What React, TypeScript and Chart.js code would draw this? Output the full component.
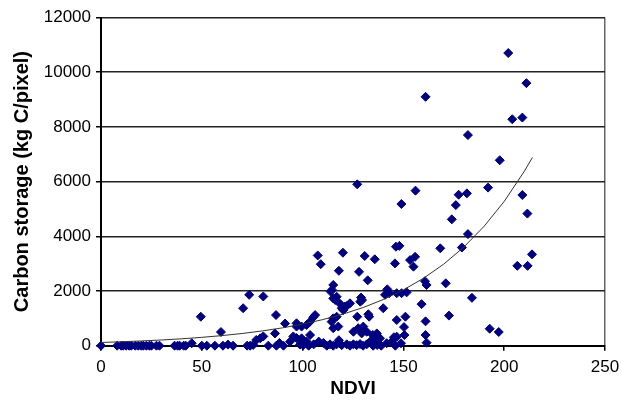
import React, { useEffect, useRef } from "react";
import { Chart, registerables } from "chart.js";

Chart.register(...registerables);

// NDVI values of the observed pixels
const ndvi: number[] = [
  0, 8, 10, 11, 12.5, 14, 15, 17, 18.5, 20, 21, 22.5, 24, 25, 27.5, 29, 36.5, 38, 39, 41, 42, 45,
  50, 52.5, 56.5, 60.5, 63, 65.5, 49.5, 59.5, 70.5, 73.5, 80.5, 86.8, 91.3,
  72.5, 74, 75.5, 77, 79, 80.5, 83, 86.3, 87, 88.5, 90.5, 93.8, 95.4, 97, 97, 97, 98.7, 99.5, 100.3, 102,
  99.5, 102, 103.7, 103.7, 105.3, 106.2, 107.5, 109,
  103, 105.5, 108, 110.3, 112, 113.6, 115.2, 116.9, 118, 119.4, 121.9, 123.5, 125.2, 126.8, 128.5, 130,
  131.8, 133.5, 135, 137, 139, 141.7, 144.2, 146, 148.8,
  115.2, 116.9, 114.4, 117.7, 115.2, 115.2, 114.6, 113.9, 115.2, 116.2, 116.9,
  118.6, 119.4, 120.2, 121, 121.9, 123.5, 118, 120, 128, 130.8, 135.8, 132.3,
  129, 129.5, 128.6, 127.1, 127.1, 132.6, 133, 125.2, 127.6, 130.1, 131.8, 129.3, 134.8, 135.9,
  136.8, 138.4, 140, 142, 143, 140.9, 146.7, 149.1, 151.6, 146.3, 148, 145.8, 149,
  146.7, 151, 150.3, 150.5, 146.7, 145.3, 153.3, 155.8, 155, 156,
  159, 160.7, 161.5, 161, 161, 161.5, 161,
  168.3, 171, 172.6, 174, 176, 177.4, 181.5, 179, 182, 182, 184,
  192, 192.8, 197.3, 197.8, 202, 204, 209, 209, 211, 211.5, 206.5, 211.6, 213.8,
];

// Carbon storage (kg C/pixel) of the same pixels
const carbon: number[] = [
  0, 0, 0, 0, 0, 0, 0, 0, 0, 0, 0, 0, 0, 0, 0, 0, 0, 0, 0, 0, 0, 90,
  0, 0, 0, 0, 40, 0, 1060, 500, 1370, 1860, 1800, 1120, 810,
  0, 0, 30, 210, 270, 340, 0, 450, 0, 100, 0, 150, 340, 280, 700, 820, 40, 270, 20, 150,
  700, 760, 880, 390, 1040, 1120, 3300, 2980,
  0, 50, 150, 100, 0, 50, 0, 50, 200, 20, 50, 0, 50, 20, 60, 0,
  50, 150, 0, 25, 0, 90, 150, 0, 90,
  1000, 1060, 880, 700, 640, 2220, 2040, 1980, 1730, 1670, 1790,
  1530, 1370, 1300, 1430, 1450, 1550, 2740, 3400, 2700, 3280, 3160, 2390,
  1760, 1670, 1610, 5900, 1060, 1150, 1060, 510, 640, 700, 510, 450, 390, 270,
  450, 270, 1370, 2060, 1920, 1860, 1920, 1920, 1950, 3620, 3650, 3010, 5180,
  940, 1060, 680, 390, 330, 310, 3130, 3250, 2890, 5670,
  1520, 2360, 2220, 890, 390, 110, 9100,
  3560, 2280, 1100, 4620, 5140, 5520, 5570, 3590, 4080, 7700, 1750,
  5780, 620, 500, 6780, 10700, 8280, 8340, 5510, 9600, 4830, 2920, 2920, 3340,
];

// Exponential trend line
const trendNdvi: number[] = [0, 10, 20, 30, 40, 50, 60, 70, 80, 90, 100, 110, 120, 130, 140, 150, 160, 170, 180, 190, 200, 210, 214];
const trendCarbon: number[] = [118, 143, 173, 209, 252, 305, 369, 446, 540, 652, 789, 954, 1154, 1395, 1687, 2040, 2467, 2983, 3608, 4363, 5275, 6379, 6883];

const xTicks: number[] = [0, 50, 100, 150, 200, 250];
const yTicks: number[] = [0, 2000, 4000, 6000, 8000, 10000, 12000];

const FONT = '"Liberation Sans", Arial, sans-serif';

export default function App() {
  const ref = useRef<HTMLCanvasElement | null>(null);

  useEffect(() => {
    if (!ref.current) return;
    const points = ndvi.map((x, i) => ({ x, y: carbon[i] }));
    const trend = trendNdvi.map((x, i) => ({ x, y: trendCarbon[i] }));
    const chart = new Chart(ref.current, {
      type: "scatter",
      data: {
        datasets: [
          {
            label: "Trend",
            data: trend,
            showLine: true,
            borderColor: "#333",
            borderWidth: 1,
            pointRadius: 0,
            fill: false,
            tension: 0,
          },
          {
            label: "Pixels",
            data: points,
            pointStyle: "rectRot",
            pointRadius: 4.5,
            backgroundColor: "#000080",
            borderColor: "#000080",
            borderWidth: 1,
            clip: false,
          },
        ],
      },
      options: {
        animation: false,
        responsive: true,
        maintainAspectRatio: false,
        layout: { padding: { left: 0, right: 17, top: 17.5, bottom: 0 } },
        plugins: { legend: { display: false }, tooltip: { enabled: false } },
        scales: {
          x: {
            type: "linear",
            min: 0,
            max: 250,
            afterBuildTicks: (s: any) => {
              s.ticks = xTicks.map((v) => ({ value: v }));
            },
            afterFit: (s: any) => {
              s.height = 54.3;
              s.paddingRight = 0;
              s.paddingLeft = 0;
            },
            ticks: {
              color: "#000",
              font: { family: FONT, size: 17 },
              padding: 6,
              maxRotation: 0,
              autoSkip: false,
              callback: (v: any) => String(v),
            },
            grid: {
              drawOnChartArea: true,
              color: (c: any) => (c.tick && c.tick.value === 250 ? "#666" : "rgba(0,0,0,0)"),
              lineWidth: 1.5,
              tickLength: 5,
              tickColor: "#000",
              tickWidth: 1.5,
            },
            border: { display: true, color: "#000", width: 2 },
            title: {
              display: true,
              text: "NDVI",
              color: "#000",
              font: { family: FONT, size: 19, weight: "bold" },
              padding: { top: 0, bottom: 0 },
            },
          },
          y: {
            type: "linear",
            min: 0,
            max: 12000,
            afterBuildTicks: (s: any) => {
              s.ticks = yTicks.map((v) => ({ value: v }));
            },
            afterFit: (s: any) => {
              s.width = 101;
              s.paddingTop = 0;
              s.paddingBottom = 0;
            },
            ticks: {
              color: "#000",
              font: { family: FONT, size: 17 },
              padding: 5,
              autoSkip: false,
              callback: (v: any) => String(v),
            },
            grid: {
              drawOnChartArea: true,
              color: "#222",
              lineWidth: 1.5,
              tickLength: 5,
              tickColor: "#000",
              tickWidth: 1.5,
            },
            border: { display: true, color: "#000", width: 2 },
            title: {
              display: true,
              text: "Carbon storage (kg C/pixel)",
              color: "#000",
              font: { family: FONT, size: 20, weight: "bold" },
              padding: { top: 10, bottom: 0 },
            },
          },
        },
      },
    });
    return () => chart.destroy();
  }, []);

  return (
    <div style={{ position: "absolute", left: 0, top: 0, width: 622, height: 400 }}>
      <canvas ref={ref} />
    </div>
  );
}
